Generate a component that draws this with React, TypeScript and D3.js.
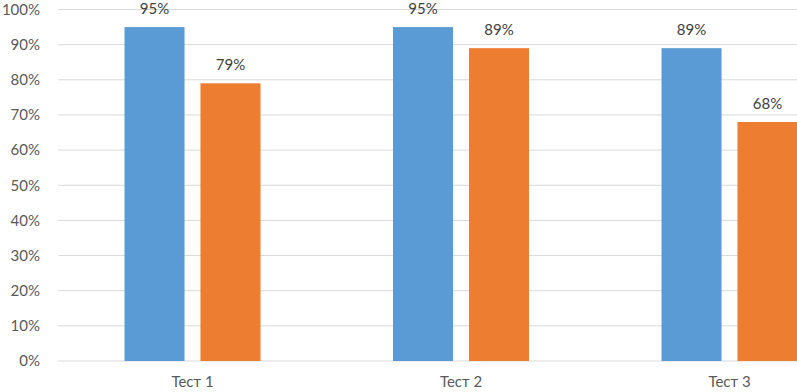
import React from "react";
import * as d3 from "d3";

const categories = ["Тест 1", "Тест 2", "Тест 3"];
const seriesNames = ["Ряд 1", "Ряд 2"];
const series1 = [0.95, 0.95, 0.89];
const series2 = [0.79, 0.89, 0.68];
const yTicks = [0, 0.1, 0.2, 0.3, 0.4, 0.5, 0.6, 0.7, 0.8, 0.9, 1.0];
const colors = ["#5b9bd5", "#ed7d31"];

export default function App() {
  const W = 797, H = 392;
  const left = 58.25, right = 863.75, top = 9.5, bottom = 361;
  const x = d3.scaleBand<string>().domain(categories).range([left, right]).paddingInner(0.4935).paddingOuter(0.4935 / 2);
  const xs = d3.scaleBand<string>().domain(seriesNames).range([0, x.bandwidth()]).paddingInner(0.21).paddingOuter(0);
  const y = d3.scaleLinear().domain([0, 1]).range([bottom, top]);
  const allSeries = [series1, series2];
  const font = "Lato, 'Open Sans', sans-serif";
  const fmt = d3.format(".0%");
  return (
    <svg width={W} height={H} style={{ position: "absolute", left: 0, top: 0, background: "#fff" }}>
      {yTicks.map((t) => (
        <g key={t}>
          <line x1={left} x2={W} y1={y(t)} y2={y(t)} stroke="#d9d9d9" strokeWidth={1} />
          <text x={40} y={y(t)} dy="0.35em" textAnchor="end" fontFamily={font} fontSize={15} fill="#595959">
            {fmt(t)}
          </text>
        </g>
      ))}
      {categories.map((c, i) => (
        <g key={c}>
          {allSeries.map((s, j) => {
            const bx = (x(c) as number) + (xs(seriesNames[j]) as number);
            return (
              <g key={j}>
                <rect x={bx} y={y(s[i])} width={xs.bandwidth()} height={y(0) - y(s[i])} fill={colors[j]} />
                <text x={bx + xs.bandwidth() / 2} y={y(s[i]) - 13} textAnchor="middle" fontFamily={font} fontSize={15} fill="#404040">
                  {fmt(s[i])}
                </text>
              </g>
            );
          })}
          <text x={(x(c) as number) + x.bandwidth() / 2} y={387} textAnchor="middle" fontFamily={font} fontSize={15} fill="#595959">
            {c}
          </text>
        </g>
      ))}
    </svg>
  );
}
